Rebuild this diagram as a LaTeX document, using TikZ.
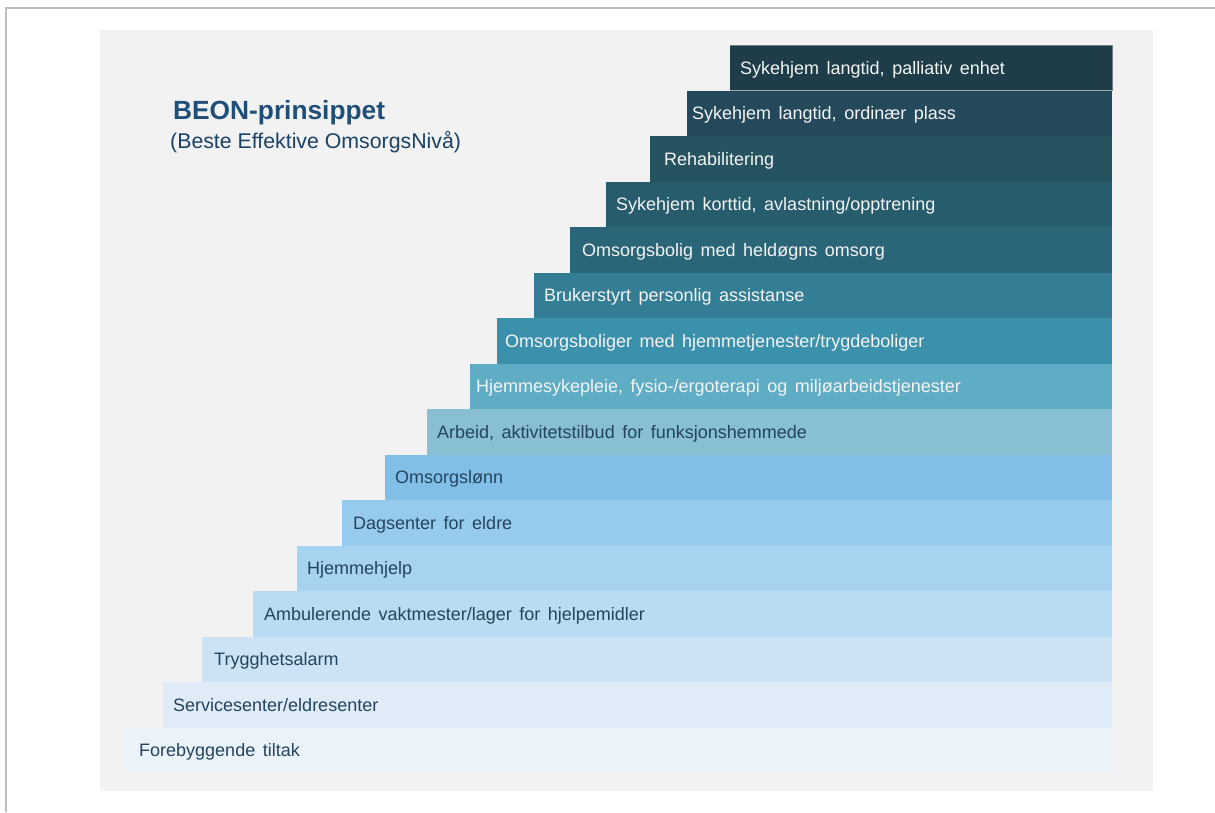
\documentclass[tikz,border=0pt]{standalone}
\usepackage{fontspec}
\setmainfont[WordSpace=1.5]{Liberation Sans}
\newfontfamily\plainfont{Liberation Sans}
\definecolor{framegrey}{HTML}{BFBFBF}
\definecolor{panelgrey}{HTML}{F2F2F2}
\definecolor{titleblue}{HTML}{1F4E79}
\definecolor{darktext}{HTML}{24445F}
\definecolor{lighttext}{HTML}{F4F4F4}
\definecolor{sa}{HTML}{1E3D48}
\definecolor{sb}{HTML}{23495A}
\definecolor{sc}{HTML}{25535F}
\definecolor{sd}{HTML}{275C6C}
\definecolor{se}{HTML}{2B6678}
\definecolor{sf}{HTML}{337E94}
\definecolor{sg}{HTML}{3B90AC}
\definecolor{sh}{HTML}{5FACC5}
\definecolor{si}{HTML}{88BFD3}
\definecolor{sj}{HTML}{82BFE6}
\definecolor{sk}{HTML}{97CBED}
\definecolor{sl}{HTML}{A6D3F0}
\definecolor{sm}{HTML}{B8DCF2}
\definecolor{sn}{HTML}{CCE3F5}
\definecolor{so}{HTML}{DFECF7}
\definecolor{sp}{HTML}{EAF2FA}
\tikzset{
  steplabel/.style={anchor=base west,inner sep=0pt,font=\fontsize{18}{21}\selectfont},
}
\begin{document}
\begin{tikzpicture}[x=1pt,y=-1pt]
\pgfmathsetmacro{\krowh}{45.5}
\pgfmathsetmacro{\kright}{1112}
\pgfmathsetmacro{\ktop}{45}
\useasboundingbox(0,0) rectangle (1215,812);
\fill[white](0,0) rectangle (1215,812);
\draw[framegrey,line width=2pt](6,812)--(6,8)--(1215,8);
\fill[panelgrey](100,30) rectangle (1153,791);
% trappetrinn, fra toppen og ned
\foreach \kleft/\ktx/\kcol/\ktxt/\klabel [count=\ki] in {
  730/740/sa/lighttext/{Sykehjem langtid, palliativ enhet},
  687/692/sb/lighttext/{Sykehjem langtid, ordinær plass},
  650/664/sc/lighttext/{Rehabilitering},
  606/616/sd/lighttext/{Sykehjem korttid, avlastning/opptrening},
  570/582/se/lighttext/{Omsorgsbolig med heldøgns omsorg},
  534/544/sf/lighttext/{Brukerstyrt personlig assistanse},
  497/505/sg/lighttext/{Omsorgsboliger med hjemmetjenester/trygdeboliger},
  470/476/sh/lighttext/{Hjemmesykepleie, fysio-/ergoterapi og miljøarbeidstjenester},
  427/437/si/darktext/{Arbeid, aktivitetstilbud for funksjonshemmede},
  385/395/sj/darktext/{Omsorgslønn},
  342/353/sk/darktext/{Dagsenter for eldre},
  297/307/sl/darktext/{Hjemmehjelp},
  253/264/sm/darktext/{Ambulerende vaktmester/lager for hjelpemidler},
  202/214/sn/darktext/{Trygghetsalarm},
  163/173/so/darktext/{Servicesenter/eldresenter},
  125/139/sp/darktext/{Forebyggende tiltak}}{
  \fill[\kcol](\kleft,{\ktop+(\ki-1)*\krowh}) rectangle (\kright,{\ktop+\ki*\krowh});
  \node[steplabel,text=\ktxt](step\ki) at (\ktx,{\ktop+(\ki-0.5)*\krowh+6.3}) {\klabel};
}
\draw[white!55!sa,line width=0.8pt](730,{\ktop+\krowh})--(\kright,{\ktop+\krowh});
\draw[white!35!sa,line width=0.6pt](730,\ktop)--(\kright,\ktop)--(\kright,{\ktop+\krowh});
\node[anchor=base west,inner sep=0pt,text=titleblue,font=\fontsize{26.3}{29}\selectfont\bfseries](title) at (173,119.5) {BEON-prinsippet};
\node[anchor=base west,inner sep=0pt,text=titleblue!85!black,font=\plainfont\fontsize{21.3}{24}\selectfont](subtitle) at (170,148) {(Beste Effektive OmsorgsNivå)};
\end{tikzpicture}
\end{document}
